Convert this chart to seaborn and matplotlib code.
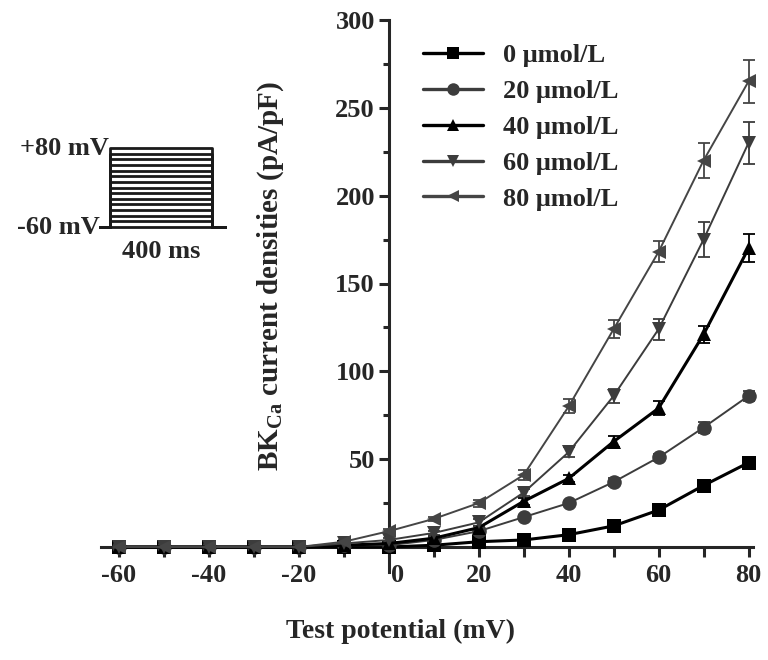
import numpy as np
import pandas as pd
import matplotlib
matplotlib.use('Agg')
import matplotlib.pyplot as plt
import matplotlib.transforms as mtransforms
from matplotlib.ticker import MultipleLocator
import seaborn as sns

# test potentials (mV)
voltages = [-60, -50, -40, -30, -20, -10, 0, 10, 20, 30, 40, 50, 60, 70, 80]
labels = ['0 μmol/L', '20 μmol/L', '40 μmol/L', '60 μmol/L', '80 μmol/L']

# BKCa current densities (pA/pF)
dens_0 = [0, 0, 0, 0, 0, 0, 0, 1, 3, 4, 7, 12, 21, 35, 48]
dens_20 = [0, 0, 0, 0, 0, 1, 1, 4, 9, 17, 25, 37, 51, 68, 86]
dens_40 = [0, 0, 0, 0, 0, 1, 2, 5, 11, 26, 39, 60, 79, 121, 170]
dens_60 = [0, 0, 0, 0, 0, 2, 4, 8, 14, 31, 54, 86, 124, 175, 230]
dens_80 = [0, 0, 0, 0, 0, 3, 9, 16, 25, 41, 80, 124, 168, 220, 265]

# SEM
sem_0 = [1, 1, 1, 1, 1, 1, 1, 1, 1, 1, 1, 1, 2, 2, 2]
sem_20 = [1, 1, 1, 1, 1, 1, 1, 1, 1, 1, 1, 2, 2, 3, 3]
sem_40 = [1, 1, 1, 1, 1, 1, 1, 1, 1, 2, 2, 3, 4, 5, 8]
sem_60 = [1, 1, 1, 1, 1, 1, 1, 1, 2, 2, 3, 4, 6, 10, 12]
sem_80 = [1, 1, 1, 1, 1, 1, 1, 1, 2, 3, 4, 5, 6, 10, 12]

dens = [dens_0, dens_20, dens_40, dens_60, dens_80]
sems = [sem_0, sem_20, sem_40, sem_60, sem_80]

df = pd.DataFrame({
    'V': voltages * 5,
    'I': sum(dens, []),
    'conc': np.repeat(labels, len(voltages)),
})

colors = {labels[0]: '#000000', labels[1]: '#3c3c3c', labels[2]: '#000000',
          labels[3]: '#3c3c3c', labels[4]: '#454545'}
markers = {labels[0]: 's', labels[1]: 'o', labels[2]: '^', labels[3]: 'v', labels[4]: '<'}
widths = [2.2, 1.4, 2.2, 1.4, 1.4]
FS = 19

sns.set_style('ticks')
plt.rcParams['font.family'] = ['Liberation Serif', 'DejaVu Serif']
plt.rcParams['font.weight'] = 'bold'
plt.rcParams['axes.unicode_minus'] = False
plt.rcParams['mathtext.fontset'] = 'custom'
plt.rcParams['mathtext.rm'] = 'Liberation Serif:bold'
plt.rcParams['mathtext.it'] = 'Liberation Serif:bold'

fig = plt.figure(figsize=(7.68, 6.6), dpi=100)
ax = fig.add_axes([101 / 768, 1 - 547 / 660, (753 - 101) / 768, (547 - 20) / 660])

sns.lineplot(data=df, x='V', y='I', hue='conc', style='conc', palette=colors,
             markers=markers, dashes=False, markersize=10.5, markeredgewidth=0,
             ax=ax, legend=True, clip_on=False, zorder=3)
for line, lw in zip(ax.lines[:5], widths):
    line.set_linewidth(lw)

for lab, d, s in zip(labels, dens, sems):
    ax.errorbar(voltages, d, yerr=s, fmt='none', ecolor=colors[lab],
                elinewidth=1.3, capsize=4, capthick=1.3, clip_on=False, zorder=2)

ax.set_xlim(-64, 81)
ax.set_ylim(0, 300)
ax.spines['left'].set_position(('data', 0))
ax.spines['left'].set_bounds(-14, 300)
ax.spines['right'].set_visible(False)
ax.spines['top'].set_visible(False)
for sp in ['left', 'bottom']:
    ax.spines[sp].set_linewidth(2.2)
ax.set_xticks(np.arange(-60, 81, 20))
ax.set_xticks(np.arange(-50, 81, 20), minor=True)
ax.set_yticks(np.arange(50, 301, 50))
ax.yaxis.set_minor_locator(MultipleLocator(25))
ax.tick_params(axis='both', which='major', labelsize=FS, width=2.2, length=7, direction='out', pad=3)
ax.tick_params(axis='x', which='major', pad=5)
ax.tick_params(axis='y', which='minor', width=2.2, length=4, direction='out')
ax.tick_params(axis='x', which='minor', width=2.2, length=7, direction='out')
for t in ax.get_xticklabels() + ax.get_yticklabels():
    t.set_fontweight('bold')
# the "0" label sits just right of the y axis
zero_lbl = ax.get_xticklabels()[3]
zero_lbl.set_transform(zero_lbl.get_transform() + mtransforms.ScaledTranslation(9 / 100, 0, fig.dpi_scale_trans))

ax.set_xlabel('Test potential (mV)', fontsize=FS + 1, fontweight='bold')
ax.set_ylabel('BK$_{Ca}$ current densities (pA/pF)', fontsize=FS + 2, fontweight='bold')
ax.yaxis.set_label_coords((286 - 101) / 652, (547 - 276) / 527)
ax.xaxis.set_label_coords((400 - 101) / 652, (547 - 619) / 527)

leg = ax.legend(loc='upper left', bbox_to_anchor=((399 - 101) / 652, 1.0), frameon=False,
                handlelength=2.3, handletextpad=0.75, labelspacing=0.47,
                prop={'size': FS, 'weight': 'bold'})
for h in leg.get_lines():
    h.set_linewidth(2.4)
    h.set_markersize(9)

# voltage protocol inset
ins = fig.add_axes([100 / 768, 1 - 227 / 660, 125 / 768, 79 / 660])
ins.set_xlim(-40, 450)
ins.set_ylim(-60, 80)
ins.axis('off')
for v in voltages:
    ins.plot([-40, 0, 0, 400, 400, 450], [-60, -60, v, v, -60, -60],
             color='#1a1a1a', lw=2.0, clip_on=False)
ins.text(-5, 80, '+80 mV', ha='right', va='center', fontsize=FS, fontweight='bold')
ins.text(-40, -60, '-60 mV', ha='right', va='center', fontsize=FS, fontweight='bold')
ins.text(200, -103, '400 ms', ha='center', va='center', fontsize=FS, fontweight='bold')

fig.savefig('out.png', dpi=100)
